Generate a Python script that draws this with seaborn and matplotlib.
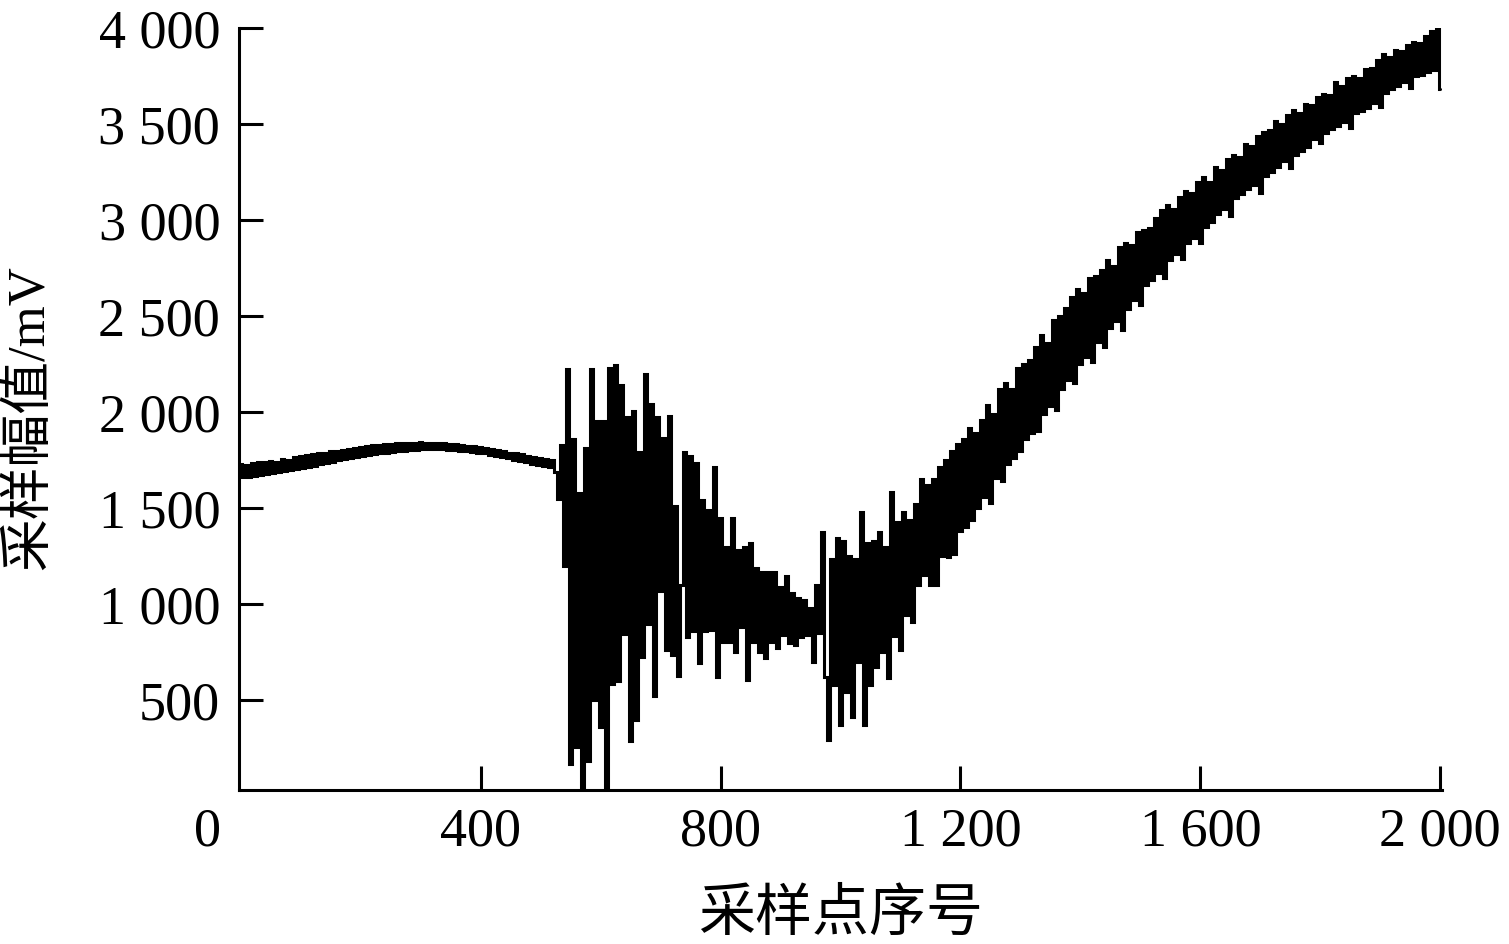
import numpy as np
import pandas as pd
import matplotlib
matplotlib.use('Agg')
import matplotlib.pyplot as plt
import matplotlib.transforms as mtransforms
import seaborn as sns

# ---------------- data (readings every STEP samples, mV) ----------------
STEP = 5

# samples 0 .. 525 : quiet band
seg_flat = [1730, 1660, 1725, 1665, 1735, 1670, 1740, 1672, 1738, 1680,
            1745, 1685, 1740, 1690, 1755, 1692, 1750, 1700, 1765, 1705,
            1770, 1710, 1775, 1712, 1780, 1720, 1790, 1730, 1785, 1735,
            1800, 1740, 1798, 1750, 1805, 1755, 1810, 1760, 1815, 1765,
            1820, 1772, 1822, 1775, 1828, 1780, 1830, 1785, 1832, 1790,
            1835, 1795, 1838, 1798, 1840, 1800, 1842, 1802, 1840, 1805,
            1845, 1806, 1842, 1808, 1840, 1808, 1838, 1806, 1840, 1805,
            1835, 1804, 1832, 1800, 1828, 1798, 1825, 1795, 1822, 1790,
            1818, 1785, 1812, 1778, 1808, 1772, 1802, 1765, 1798, 1760,
            1790, 1752, 1785, 1745, 1780, 1738, 1772, 1732, 1768, 1725,
            1762, 1718, 1755, 1712, 1750, 1690]

# samples 530 .. 735 : burst
seg_burst = [1550, 1830, 1200, 2225, 170, 1860, 255, 1580, 35, 1815,
             185, 2225, 500, 1955, 360, 1955, 35, 2230, 585, 2245,
             600, 2140, 845, 1975, 290, 2005, 395, 1795, 725, 2200,
             895, 2040, 520, 1975, 1070, 1865, 760, 1980, 735, 1510,
             625, 1100]

# samples 740 .. 965 : decay
seg_decay = [1795, 830, 1772, 860, 1734, 693, 1543, 860, 1491, 866,
             1717, 623, 1448, 805, 1300, 805, 1448, 753, 1283, 883,
             1300, 606, 1321, 805, 1188, 753, 1170, 719, 1170, 805,
             1170, 771, 1092, 840, 1148, 800, 1057, 790, 1031, 830,
             1023, 840, 980, 700, 1100, 850]

# samples 970 .. 1175 : second disturbance
seg_second = [1377, 620, 294, 1238, 580, 1343, 372, 1330, 545, 1250,
              415, 1238, 700, 1481, 372, 1317, 580, 1330, 674, 1377,
              750, 1300, 615, 1585, 837, 1429, 760, 1481, 945, 1438,
              910, 1524, 1100, 1654, 1150, 1620, 1101, 1654, 1101, 1715,
              1250, 1750]

# samples 1180 .. 2000 : rising band
seg_rise = [1247, 1800, 1262, 1835, 1380, 1860, 1400, 1920, 1440, 1890,
            1500, 1960, 1560, 2035, 1525, 1990, 1655, 2120, 1640, 2150,
            1730, 2120, 1760, 2230, 1800, 2250, 1860, 2270, 1890, 2340,
            1900, 2400, 1990, 2360, 2030, 2480, 2010, 2500, 2120, 2540,
            2165, 2600, 2150, 2640, 2250, 2620, 2285, 2700, 2260, 2710,
            2365, 2740, 2340, 2790, 2440, 2760, 2475, 2860, 2430, 2880,
            2535, 2870, 2585, 2940, 2560, 2950, 2660, 2960, 2690, 3010,
            2725, 3050, 2700, 3080, 2790, 3060, 2825, 3120, 2800, 3150,
            2880, 3140, 2905, 3200, 2880, 3225, 2965, 3200, 2990, 3275,
            3030, 3260, 3060, 3320, 3020, 3340, 3115, 3330, 3135, 3395,
            3160, 3385, 3185, 3440, 3140, 3460, 3230, 3470, 3250, 3515,
            3275, 3500, 3305, 3545, 3270, 3575, 3340, 3560, 3360, 3605,
            3380, 3600, 3420, 3640, 3400, 3655, 3455, 3650, 3475, 3720,
            3490, 3700, 3510, 3738, 3480, 3750, 3555, 3740, 3570, 3785,
            3585, 3790, 3610, 3835, 3590, 3865, 3660, 3850, 3680, 3888,
            3700, 3880, 3720, 3912, 3690, 3925, 3748, 3920, 3755, 3958,
            3770, 3985, 3782, 3995, 3680]

x_ticks = [0, 400, 800, 1200, 1600, 2000]
x_tick_labels = ['0', '400', '800', '1 200', '1 600', '2 000']
y_ticks = [500, 1000, 1500, 2000, 2500, 3000, 3500, 4000]
y_tick_labels = ['500', '1 000', '1 500', '2 000', '2 500', '3 000', '3 500', '4 000']
x_label = '采样点序号'
y_label = '采样幅值/mV'

amplitude = np.array(seg_flat + seg_burst + seg_decay + seg_second + seg_rise, dtype=float)
sample_idx = np.arange(len(amplitude)) * STEP
df = pd.DataFrame({'idx': sample_idx, 'amp': amplitude})

# ---------------- style ----------------
sns.set_theme(style='white')
plt.rcParams['font.family'] = ['Liberation Serif', 'Noto Sans CJK SC', 'DejaVu Sans']
plt.rcParams['axes.unicode_minus'] = False
plt.rcParams['text.color'] = 'black'
plt.rcParams['axes.labelcolor'] = 'black'
plt.rcParams['xtick.color'] = 'black'
plt.rcParams['ytick.color'] = 'black'

W, H = 1509, 944
fig = plt.figure(figsize=(W / 100, H / 100), dpi=100)
ax = fig.add_axes([239 / W, 1 - 790 / H, 1203 / W, 762 / H])

sns.lineplot(data=df, x='idx', y='amp', color='black', linewidth=2.2,
             estimator=None, legend=False, ax=ax, drawstyle='steps-mid',
             solid_joinstyle='miter')

ax.set_xlim(-3, 2003)
ax.set_ylim(33, 4000)

for s in ['top', 'right']:
    ax.spines[s].set_visible(False)
for s in ['left', 'bottom']:
    ax.spines[s].set_linewidth(2.2)
    ax.spines[s].set_color('black')

ax.tick_params(axis='both', direction='in', length=17, width=2.2, labelsize=39,
               colors='black', bottom=True, left=True, top=False, right=False)
ax.tick_params(axis='x', pad=12)
ax.tick_params(axis='y', pad=13.5)

ax.set_xticks(x_ticks, x_tick_labels)
ax.set_yticks(y_ticks, y_tick_labels)

ticks = ax.xaxis.get_major_ticks()
ticks[0].tick1line.set_visible(False)
lab0 = ticks[0].label1
lab0.set_transform(lab0.get_transform() +
                   mtransforms.ScaledTranslation(-33 / 100, 0, fig.dpi_scale_trans))

ax.set_xlabel(x_label, fontsize=41, va='center')
ax.xaxis.set_label_coords(0.5, (790 - 915) / 762)
ax.set_ylabel(y_label, fontsize=38, va='center')
ax.yaxis.set_label_coords((30 - 239) / 1203, (790 - 418) / 762)

fig.savefig('out.png', dpi=100)
